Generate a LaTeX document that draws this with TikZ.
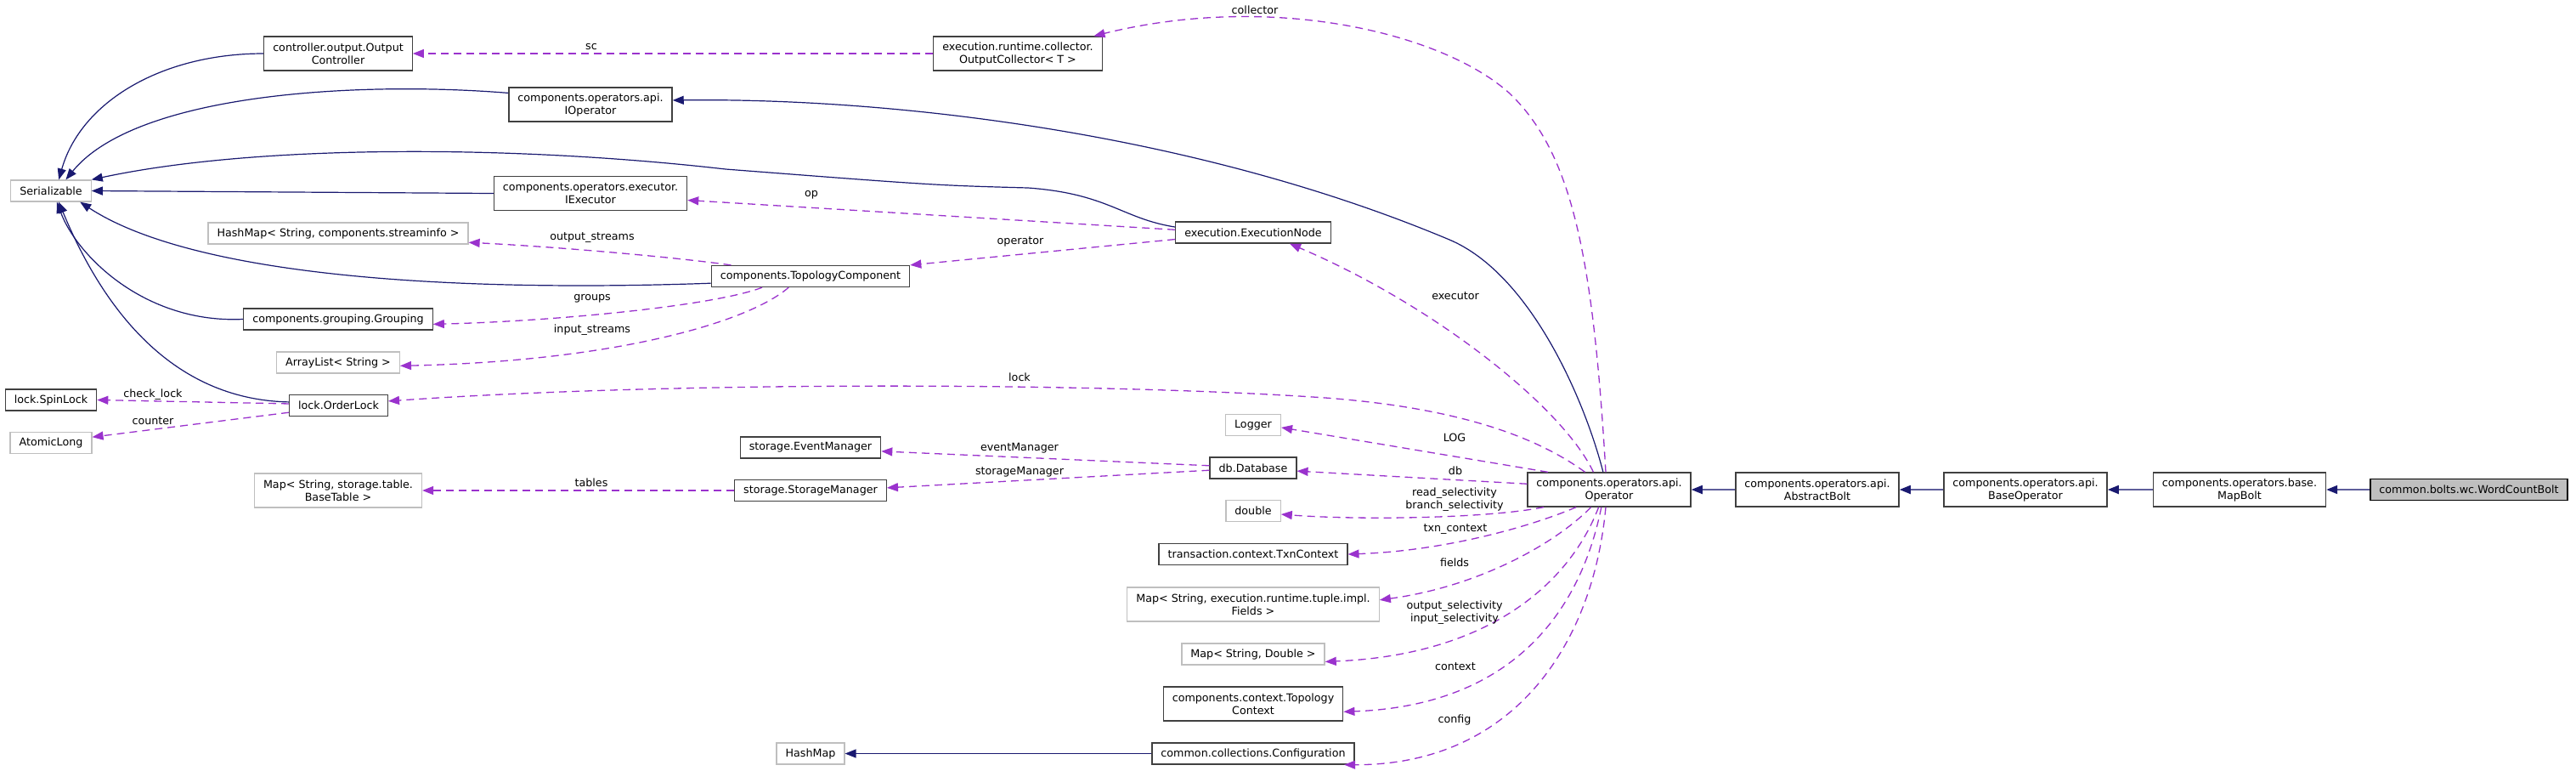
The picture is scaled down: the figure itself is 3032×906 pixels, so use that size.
\documentclass[tikz,border=0pt]{standalone}
\usepackage{fontspec}
\setmainfont{DejaVu Sans}
\usetikzlibrary{arrows.meta}
\definecolor{edgeblue}{HTML}{191970}
\definecolor{edgepurple}{HTML}{9A32CD}

\begin{document}
\begin{tikzpicture}[x=1pt, y=-1pt,
    txt/.style={font=\fontsize{12.7}{15}\selectfont, align=center},
    cls/.style={txt, draw=black!75, line width=1.3pt, fill=white, inner xsep=10.5pt, inner ysep=1pt, minimum height=25pt},
    ext/.style={cls, draw=black!25},
    cur/.style={cls, draw=black, fill=black!25},
    twol/.style={minimum height=40pt},
    lbl/.style={txt, inner sep=0pt},
    inh/.style={draw=edgeblue, line width=1.2pt, -{Triangle[length=13pt,width=10pt]}},
    inhb/.style={draw=edgeblue!70, line width=1.8pt, -{Triangle[length=13pt,width=10pt,color=edgeblue]}},
    usg/.style={draw=edgepurple, line width=1.3pt, dash pattern=on 9pt off 6pt, -{Triangle[length=13pt,width=10pt]}}]
    \fill[white] (0,0) rectangle (3032,906);
    \useasboundingbox (0,0) rectangle (3032,906);

    \node[ext] (ser) at (60,224.5) {Serializable};
    \node[cls, twol] (oc) at (398,63) {controller.output.Output\\Controller};
    \node[cls, twol] (iop) at (695,123) {components.operators.api.\\IOperator};
    \node[cls, twol] (iex) at (695,227.5) {components.operators.executor.\\IExecutor};
    \node[ext] (hm1) at (398,274.5) {HashMap< String, components.streaminfo >};
    \node[cls] (grp) at (398,375.5) {components.grouping.Grouping};
    \node[ext] (al) at (398,426.5) {ArrayList< String >};
    \node[cls] (spin) at (60,470.5) {lock.SpinLock};
    \node[cls] (ol) at (398.5,477) {lock.OrderLock};
    \node[ext] (atl) at (60,521) {AtomicLong};
    \node[ext, twol] (mbt) at (398,577) {Map< String, storage.table.\\BaseTable >};
    \node[cls, twol] (ocol) at (1198,63) {execution.runtime.collector.\\OutputCollector< T >};
    \node[cls] (tpc) at (954,325) {components.TopologyComponent};
    \node[cls] (exn) at (1475,273.5) {execution.ExecutionNode};
    \node[cls] (em) at (954,526.5) {storage.EventManager};
    \node[cls] (sm) at (954,577) {storage.StorageManager};
    \node[ext] (hm2) at (954,886.5) {HashMap};
    \node[ext] (lg) at (1475,500) {Logger};
    \node[cls] (dbase) at (1475,550.5) {db.Database};
    \node[ext] (dbl) at (1475,601) {double};
    \node[cls] (txn) at (1475,652) {transaction.context.TxnContext};
    \node[ext, twol] (fm) at (1475,711) {Map< String, execution.runtime.tuple.impl.\\Fields >};
    \node[ext] (md) at (1475,769.5) {Map< String, Double >};
    \node[cls, twol] (tctx) at (1475,828) {components.context.Topology\\Context};
    \node[cls] (conf) at (1475,886.5) {common.collections.Configuration};
    \node[cls, twol] (opr) at (1894,576) {components.operators.api.\\Operator};
    \node[cls, twol] (ab) at (2139,576) {components.operators.api.\\AbstractBolt};
    \node[cls, twol] (bop) at (2384,576) {components.operators.api.\\BaseOperator};
    \node[cls, twol] (mb) at (2636,576) {components.operators.base.\\MapBolt};
    \node[cur] (wcb) at (2906,576) {common.bolts.wc.WordCountBolt};

    \draw[inh] (oc.west) .. controls (190,63) and (95,120) .. (ser.55);
    \draw[inh] (iop.172) .. controls (420,95) and (160,110) .. (ser.37);
    \draw[inh] (exn.176) .. controls (1320,257) and (1305,228) .. (1210,221) .. controls (1100,218) .. (854,199) .. controls (600,170) and (300,170) .. (ser.north east);
    \draw[inh] (iex.west) -- (ser.east);
    \draw[inh] (tpc.184) .. controls (500,345) and (220,320) .. (ser.-21);
    \draw[inh] (grp.west) .. controls (170,381) and (90,300) .. (ser.-62);
    \draw[inh] (ol.176) .. controls (200,470) and (120,360) .. (ser.-55);

    \draw[usg] (ocol.west) -- (oc.east);
    \draw[usg] (exn.178) -- (iex.-4);
    \draw[usg] (exn.185) -- (tpc.north east);
    \draw[usg] (tpc.172) .. controls (790,302) and (650,290) .. (hm1.-4);
    \draw[usg] (tpc.193) .. controls (840,360) and (650,378) .. (grp.-3);
    \draw[usg] (tpc.207) .. controls (880,380) and (720,425) .. (al.-3);
    \draw[usg] (ol.178) -- (spin.east);
    \draw[usg] (ol.188) -- (atl.8);
    \draw[usg] (dbase.177) -- (em.-3);
    \draw[usg] (dbase.183) -- (sm.2);
    \draw[usg] (sm.west) -- (mbt.east);

    \draw[inh] (opr.109) .. controls (1865,470) and (1801,322) .. (1706,282) .. controls (1406,156) and (1050,115) .. (iop.3);
    \draw[usg] (opr.101) .. controls (1875,300) and (1850,180) .. (1777,110) .. controls (1700,40) and (1500,-10) .. (ocol.13);
    \draw[usg] (opr.132) .. controls (1840,480) and (1690,360) .. (exn.-17);
    \draw[usg] (opr.144) .. controls (1810,515) and (1720,480) .. (1560,468) .. controls (1300,450) and (800,448) .. (ol.5);
    \draw[usg] (opr.164) -- (lg.-5);
    \draw[usg] (opr.176) -- (dbase.-4);
    \draw[usg] (opr.-165) .. controls (1750,610) and (1600,612) .. (dbl.-7);
    \draw[usg] (opr.-152) .. controls (1800,620) and (1700,648) .. (txn.east);
    \draw[usg] (opr.-136) .. controls (1830,640) and (1740,690) .. (fm.2);
    \draw[usg] (opr.-121) .. controls (1850,680) and (1760,770) .. (md.-6);
    \draw[usg] (opr.-114) .. controls (1860,720) and (1780,830) .. (tctx.-5);
    \draw[usg] (opr.-101) .. controls (1875,760) and (1780,900) .. (conf.-7);

    \draw[inhb] (ab.west) -- (opr.east);
    \draw[inhb] (bop.west) -- (ab.east);
    \draw[inhb] (mb.west) -- (bop.east);
    \draw[inhb] (wcb.west) -- (mb.east);
    \draw[inh] (conf.west) -- (hm2.east);

    \node[lbl] (l-sc) at (696,55) {sc};
    \node[lbl] (l-coll) at (1477,12) {collector};
    \node[lbl] (l-op) at (955,229) {op};
    \node[lbl] (l-oper) at (1201,284) {operator};
    \node[lbl] (l-outs) at (697,280) {output\_streams};
    \node[lbl] (l-grp) at (697,351) {groups};
    \node[lbl] (l-ins) at (697,388) {input\_streams};
    \node[lbl] (l-lock) at (1200,444) {lock};
    \node[lbl] (l-chk) at (180,464) {check\_lock};
    \node[lbl] (l-cnt) at (180,495) {counter};
    \node[lbl] (l-em) at (1200,527) {eventManager};
    \node[lbl] (l-sm) at (1200,555) {storageManager};
    \node[lbl] (l-tab) at (696,568) {tables};
    \node[lbl] (l-exe) at (1713,348) {executor};
    \node[lbl] (l-log) at (1712,515) {LOG};
    \node[lbl] (l-db) at (1713,554) {db};
    \node[lbl] (l-rb) at (1712,588) {read\_selectivity\\branch\_selectivity};
    \node[lbl] (l-txn) at (1713,623) {txn\_context};
    \node[lbl] (l-fld) at (1712,662) {fields};
    \node[lbl] (l-oi) at (1712,721) {output\_selectivity\\input\_selectivity};
    \node[lbl] (l-ctx) at (1713,784) {context};
    \node[lbl] (l-cfg) at (1712,847) {config};
\end{tikzpicture}
\end{document}
